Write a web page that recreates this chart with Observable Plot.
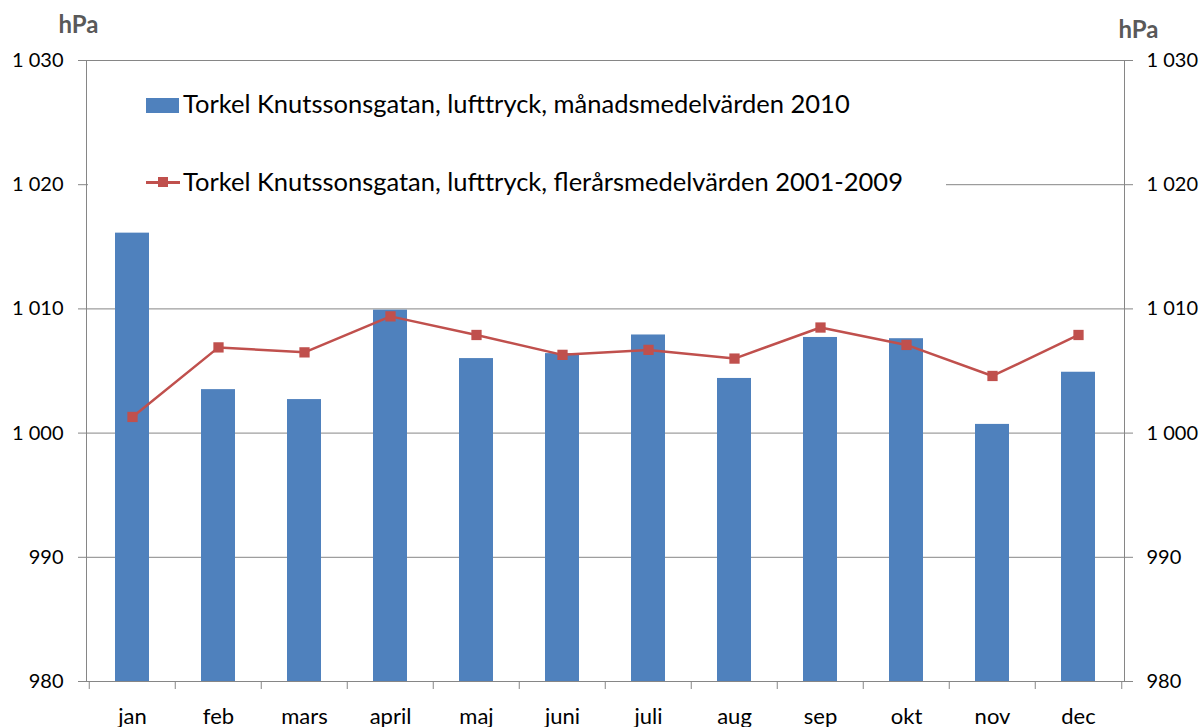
<!DOCTYPE html>
<html>
<head>
<meta charset="utf-8">
<script src="https://cdn.jsdelivr.net/npm/d3@7"></script>
<script src="https://cdn.jsdelivr.net/npm/@observablehq/plot@0.6"></script>
<style>
  html, body { margin: 0; padding: 0; background: #fff; }
  #wrap { position: relative; width: 1199px; height: 727px; overflow: hidden; font-family: Lato, "Open Sans", sans-serif; }
  #legend { position: absolute; left: 88px; top: 62px; width: 858px; height: 140px; background: #fff; }
  .lt { position: absolute; left: 95px; font-size: 25.5px; color: #000; white-space: nowrap; line-height: 1; }
</style>
</head>
<body>
<div id="wrap"></div>
<script>
const months = ["jan","feb","mars","april","maj","juni","juli","aug","sep","okt","nov","dec"];
const monthly2010 = [1016.1,1003.5,1002.7,1009.9,1006.0,1006.4,1007.9,1004.4,1007.7,1007.6,1000.7,1004.9];
const mean2001_2009 = [1001.3,1006.9,1006.5,1009.4,1007.9,1006.3,1006.7,1006.0,1008.5,1007.1,1004.6,1007.9];
const yTicks = [980,990,1000,1010,1020,1030];
const seriesNames = ["Torkel Knutssonsgatan, lufttryck, månadsmedelvärden 2010",
                     "Torkel Knutssonsgatan, lufttryck, flerårsmedelvärden 2001-2009"];
const unit = "hPa";

const W = 1199, H = 727, mL = 86, mR = 75, mT = 60, mB = 46;
const step = (W - mL - mR) / months.length;
const barColor = "#4f81bd", lineColor = "#c0504d", axisColor = "#868686";
const fmt = d => d >= 1000 ? Math.floor(d / 1000) + "\u00a0" + String(d % 1000).padStart(3, "0") : String(d);

const bars = months.map((m, i) => ({month: m, v: monthly2010[i]}));
const pts = months.map((m, i) => ({month: m, v: mean2001_2009[i]}));

const chart = Plot.plot({
  width: W, height: H,
  marginLeft: mL, marginRight: mR, marginTop: mT, marginBottom: mB,
  style: {fontFamily: "Lato, 'Open Sans', sans-serif", color: "#000", background: "#fff"},
  x: {type: "band", domain: months, paddingInner: 0.6, paddingOuter: 0.3, label: null},
  y: {domain: [980, 1030], label: null},
  marks: [
    Plot.gridY(yTicks, {stroke: axisColor, strokeOpacity: 1}),
    Plot.barY(bars, {x: "month", y1: 980, y2: "v", fill: barColor}),
    Plot.frame({anchor: "left", stroke: axisColor}),
    Plot.frame({anchor: "right", stroke: axisColor}),
    Plot.ruleY([980], {stroke: axisColor}),
    Plot.axisY(yTicks, {anchor: "left", tickSize: 8, tickPadding: 15, tickFormat: fmt, fontSize: 20, stroke: axisColor, label: null}),
    Plot.axisY(yTicks, {anchor: "right", tickSize: 8, tickPadding: 14, tickFormat: fmt, fontSize: 20, stroke: axisColor, label: null}),
    Plot.axisX(months, {tickSize: 8, tickFormat: () => "", dx: -step / 2, stroke: axisColor, label: null}),
    Plot.axisX([months[months.length - 1]], {tickSize: 8, tickFormat: () => "", dx: step / 2, stroke: axisColor, label: null}),
    Plot.axisX(months, {tickSize: 0, tickPadding: 27, fontSize: 22, label: null}),
    Plot.lineY(pts, {x: "month", y: "v", stroke: lineColor, strokeWidth: 2.5}),
    Plot.dot(pts, {x: "month", y: "v", symbol: "square", r: 5.8, fill: lineColor, stroke: null}),
    Plot.text([unit], {frameAnchor: "top-left", dx: -28, dy: -45, lineAnchor: "top", fontSize: 24, fontWeight: "bold", fill: "#595959"}),
    Plot.text([unit], {frameAnchor: "top-right", dx: 34, dy: -40, lineAnchor: "top", fontSize: 24, fontWeight: "bold", fill: "#595959"})
  ]
});
const wrap = document.getElementById("wrap");
wrap.appendChild(chart);

const legend = document.createElement("div");
legend.id = "legend";
legend.innerHTML = `
  <div style="position:absolute;left:58px;top:36px;width:33px;height:15px;background:${barColor}"></div>
  <div class="lt" style="top:29px">${seriesNames[0]}</div>
  <div style="position:absolute;left:58px;top:119px;width:34px;height:3px;background:${lineColor}"></div>
  <div style="position:absolute;left:70px;top:115px;width:10px;height:10px;background:${lineColor}"></div>
  <div class="lt" style="top:107px">${seriesNames[1]}</div>`;
wrap.appendChild(legend);
</script>
</body>
</html>
